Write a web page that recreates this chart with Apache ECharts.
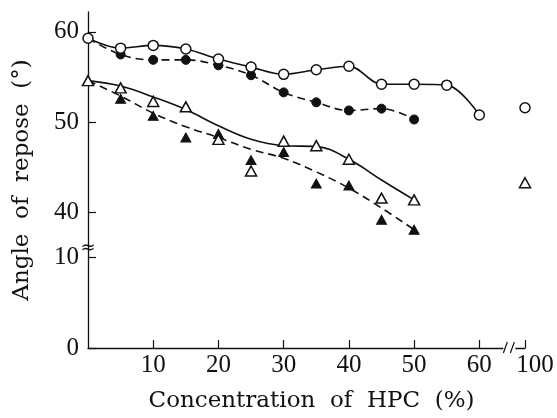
<!DOCTYPE html>
<html>
<head>
<meta charset="utf-8">
<script src="https://cdn.jsdelivr.net/npm/echarts@6/dist/echarts.min.js"></script>
<style>
html,body{margin:0;padding:0;background:#fff;}
#chart{width:557px;height:418px;}
</style>
</head>
<body>
<div id="chart"></div>
<script>
const concentrations = [0, 5, 10, 15, 20, 25, 30, 35, 40, 45, 50, 55, 60];
const openCircle = [59.3, 58.2, 58.5, 58.1, 57.0, 56.1, 55.3, 55.8, 56.2, 54.2, 54.2, 54.1, 50.8];
const filledCircle = [59.3, 57.5, 56.9, 56.9, 56.3, 55.2, 53.3, 52.2, 51.3, 51.5, 50.3];
const openTriangle = [54.6, 53.8, 52.3, 51.7, 48.1, 44.6, 47.9, 47.4, 45.9, 41.6, 41.4];
const filledTriangle = [54.6, 52.6, 50.7, 48.3, 48.7, 45.8, 46.7, 43.2, 43.0, 39.2, 38.1];
const openTriangleCurve = [54.6, 54.0, 52.8, 51.4, 49.6, 48.1, 47.4, 47.3, 45.9, 43.6, 41.4];
const filledTriangleCurve = [54.6, 52.9, 51.0, 49.5, 48.3, 47.0, 46.0, 44.5, 42.7, 40.5, 38.1];
const pureHPC = 100;
const openCircleAt100 = 51.6;
const openTriangleAt100 = 43.3;
const xTickLabels = [10, 20, 30, 40, 50, 60, 100];
const yTickLabels = [0, 10, 40, 50, 60];

// ---- broken-axis mapping (real value -> axis coordinate) ----
function yMap(v) { return v <= 10 ? v : v - 25; }   // 40 -> 15, 60 -> 35
function yUnmap(d) { return d <= 10 ? d : d + 25; }
function xMap(v) { return v <= 60 ? v : v - 33; }   // 100 -> 67
function xUnmap(d) { return d <= 60 ? d : d + 33; }

function pairs(xs, ys) { return ys.map((y, i) => [xMap(xs[i]), yMap(y)]); }

const serif = 'DejaVu Serif';
const numFont = 'Liberation Serif';
const black = '#111';

const chart = echarts.init(document.getElementById('chart'), null, {renderer: 'canvas'});

const openSym = {color: '#fff', borderColor: black, borderWidth: 1.5, opacity: 1};
const fillSym = {color: black, borderColor: black, borderWidth: 1, opacity: 1};

chart.setOption({
  animation: false,
  backgroundColor: '#fff',
  grid: {left: 88, right: 32, top: 12, bottom: 69, containLabel: false},
  xAxis: {
    type: 'value', min: 0, max: xMap(100),
    axisLine: {show: true, onZero: false, lineStyle: {color: black, width: 1.3}},
    axisTick: {show: true, inside: true, length: 8, lineStyle: {color: black, width: 1.2},
      customValues: xTickLabels.map(xMap)},
    axisLabel: {
      customValues: xTickLabels.map(xMap), margin: 5,
      fontFamily: numFont, fontSize: 25, color: black,
      formatter: function (d) {
        const r = Math.round(xUnmap(d));
        return r === 100 ? '{r|' + r + '}' : String(r);
      },
      rich: {r: {fontFamily: numFont, fontSize: 25, color: black, padding: [0, 0, 0, 20]}}
    },
    splitLine: {show: false},
    name: 'Concentration  of  HPC  (%)',
    nameLocation: 'middle', nameGap: 42,
    nameTextStyle: {fontFamily: serif, fontSize: 23, color: black, padding: [0, 0, 0, 10]}
  },
  yAxis: {
    type: 'value', min: 0, max: 37.2,
    axisLine: {show: true, onZero: false, lineStyle: {color: black, width: 1.3}},
    axisTick: {show: true, inside: true, length: 8, lineStyle: {color: black, width: 1.2},
      customValues: yTickLabels.map(yMap)},
    axisLabel: {
      customValues: yTickLabels.map(yMap), margin: 9,
      fontFamily: numFont, fontSize: 25, color: black,
      formatter: function (d) { return String(Math.round(yUnmap(d))); }
    },
    splitLine: {show: false},
    name: 'Angle  of  repose  (°)',
    nameLocation: 'middle', nameGap: 54, nameRotate: 90,
    nameTextStyle: {fontFamily: serif, fontSize: 23, color: black, padding: [0, 0, 0, 0]}
  },
  series: [
    {
      name: 'filled triangle curve', type: 'line', smooth: 0.4, showSymbol: false, z: 2,
      lineStyle: {color: black, width: 1.6, type: [8, 5]},
      data: pairs(concentrations, filledTriangleCurve)
    },
    {
      name: 'open triangle curve', type: 'line', smooth: 0.4, showSymbol: false, z: 2,
      lineStyle: {color: black, width: 1.6},
      data: pairs(concentrations, openTriangleCurve)
    },
    {
      name: 'filled triangle', type: 'scatter', symbol: 'triangle', symbolSize: [10, 9], z: 4,
      itemStyle: fillSym,
      data: pairs(concentrations, filledTriangle).slice(1)
    },
    {
      name: 'open triangle', type: 'scatter', symbol: 'triangle', symbolSize: [11, 10], z: 5,
      itemStyle: openSym,
      data: pairs(concentrations, openTriangle).concat([[xMap(pureHPC), yMap(openTriangleAt100)]])
    },
    {
      name: 'filled circle', type: 'line', smooth: 0.4, z: 3,
      symbol: 'circle', symbolSize: 9, showAllSymbol: true,
      lineStyle: {color: black, width: 1.6, type: [8, 5]},
      itemStyle: fillSym,
      data: pairs(concentrations, filledCircle)
    },
    {
      name: 'open circle', type: 'line', smooth: 0.35, z: 5,
      symbol: 'circle', symbolSize: 10, showAllSymbol: true,
      lineStyle: {color: black, width: 1.6},
      itemStyle: openSym,
      data: pairs(concentrations, openCircle)
    },
    {
      name: 'open circle 100', type: 'scatter', symbol: 'circle', symbolSize: 10, z: 5,
      itemStyle: openSym,
      data: [[xMap(pureHPC), yMap(openCircleAt100)]]
    }
  ]
});

// ---- axis break marks ----
const yb = chart.convertToPixel({xAxisIndex: 0, yAxisIndex: 0}, [0, 11]);
const xb = chart.convertToPixel({xAxisIndex: 0, yAxisIndex: 0}, [64.6, 0]);
chart.setOption({
  graphic: [
    {type: 'text', x: yb[0], y: yb[1], z: 20,
      style: {text: '≈', font: '18px "DejaVu Sans"', fill: black, align: 'center', verticalAlign: 'middle'}},
    {type: 'rect', z: 20, shape: {x: xb[0] - 6, y: xb[1] - 2, width: 12, height: 4}, style: {fill: '#fff'}},
    {type: 'line', z: 21, shape: {x1: xb[0] - 6, y1: xb[1] + 5, x2: xb[0] - 2, y2: xb[1] - 6}, style: {stroke: black, lineWidth: 1.2}},
    {type: 'line', z: 21, shape: {x1: xb[0] + 1, y1: xb[1] + 5, x2: xb[0] + 5, y2: xb[1] - 6}, style: {stroke: black, lineWidth: 1.2}}
  ]
});
</script>
</body>
</html>
